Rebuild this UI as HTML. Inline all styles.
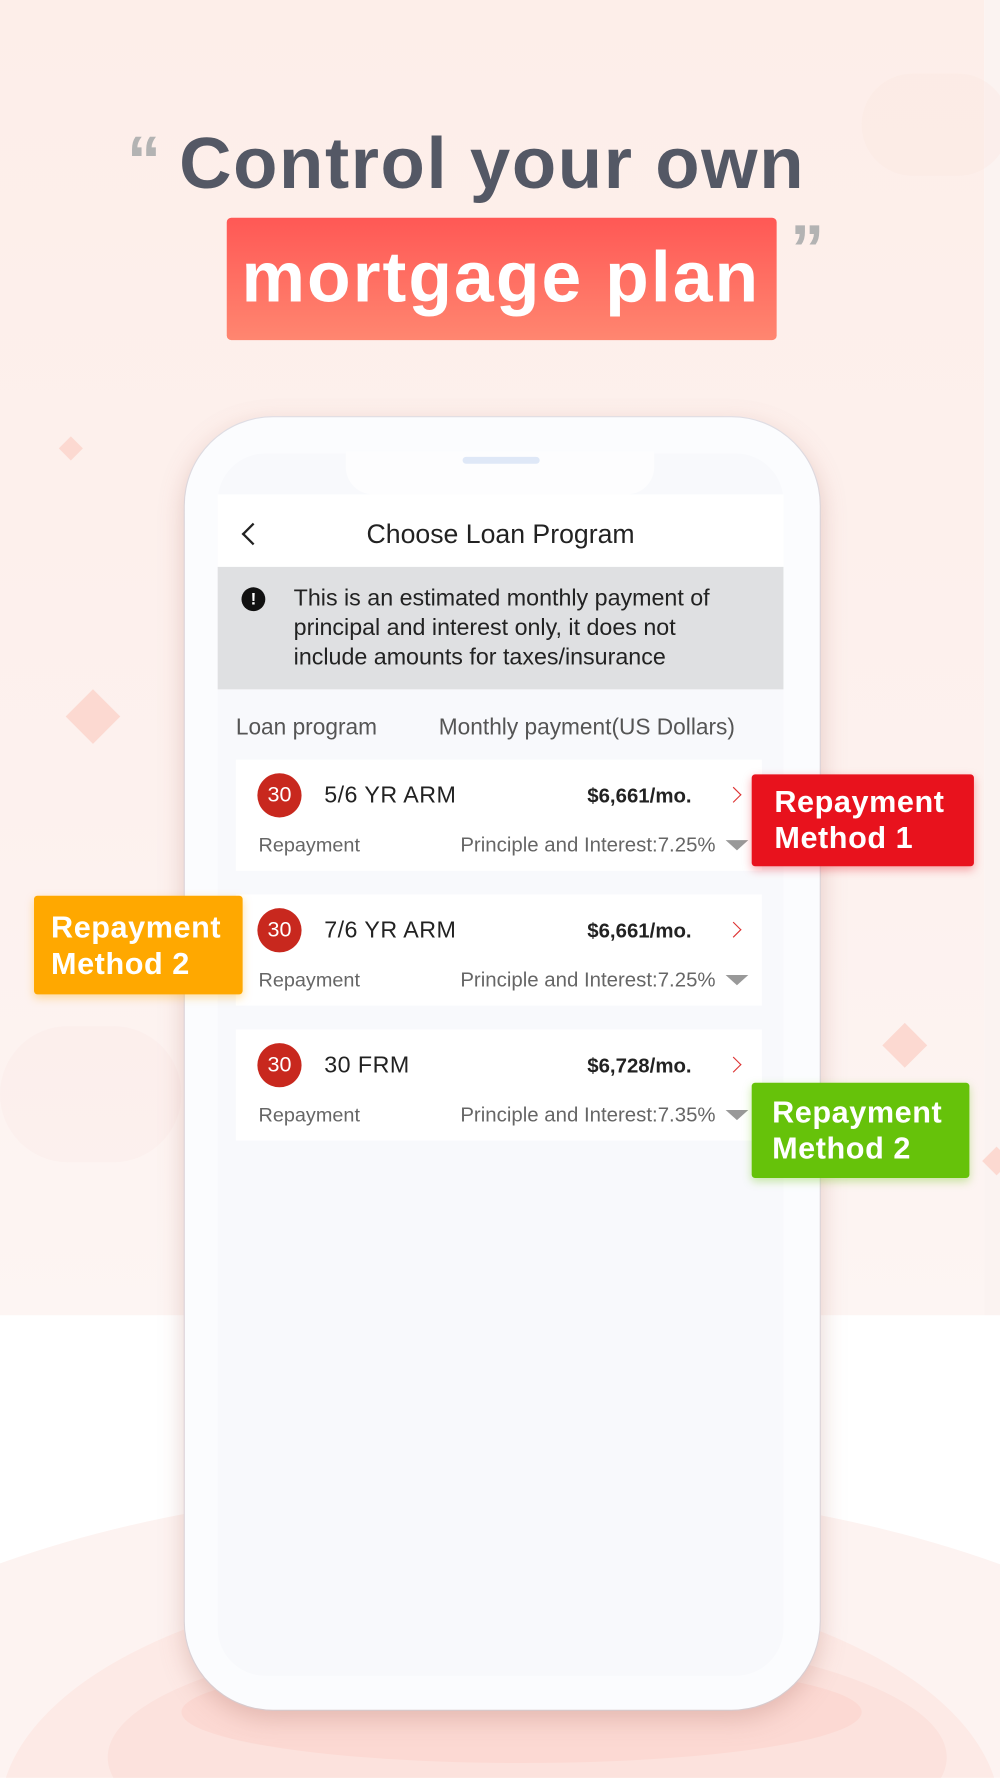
<!DOCTYPE html>
<html><head><meta charset="utf-8"><style>
*{margin:0;padding:0;box-sizing:border-box}
html,body{width:1000px;height:1778px;overflow:hidden;background:#fff}
#s{position:absolute;left:0;top:0;width:882px;height:1568px;transform:scale(1.13379);transform-origin:0 0;font-family:"Liberation Sans",sans-serif;overflow:hidden;background:#fff}
.a{position:absolute}
.dia{position:absolute;background:#fcd9d1;transform:rotate(45deg)}
.card{position:absolute;left:208px;width:464px;height:98px;background:#fff}
.c30{position:absolute;left:227px;width:39px;height:39px;border-radius:50%;background:#c8281e;color:#fff;font-size:19px;line-height:39px;text-align:center}
.tt{position:absolute;left:286px;font-size:20.5px;color:#222;letter-spacing:.4px}
.pr{position:absolute;right:272px;font-size:18px;font-weight:bold;color:#222}
.ch{position:absolute;left:642px;width:10px;height:10px;border-top:1.5px solid #d33;border-right:1.5px solid #d33;transform:rotate(45deg)}
.rp{position:absolute;left:228px;font-size:17.5px;color:#666}
.pi{position:absolute;left:406px;font-size:18px;color:#666}
.tri{position:absolute;left:640px;width:0;height:0;border-left:10px solid transparent;border-right:10px solid transparent;border-top:9px solid #999}
.lb{position:absolute;color:#fff;font-weight:bold;font-size:27px;line-height:32px;padding:8px 0 0 20px;border-radius:3px;letter-spacing:.5px}
</style></head><body><div id="s">
<div class="a" style="left:0;top:0;width:868px;height:1160px;background:linear-gradient(#fdeee9,#fdf1ee 60%,#fdf5f3)"></div>
<div class="a" style="left:868px;top:0;width:14px;height:1160px;background:#fbf3f1"></div>
<div class="a" style="left:760px;top:65px;width:130px;height:90px;border-radius:60px;background:#fce6df;opacity:.3"></div>
<div class="a" style="left:0;top:905px;width:160px;height:120px;border-radius:70px;background:#fce9e4;opacity:.3"></div>
<div class="a" style="left:-250px;top:1310px;width:1380px;height:600px;border-radius:50%;background:#fdf3f1"></div>
<div class="a" style="left:0;top:1390px;width:882px;height:420px;border-radius:50%;background:#fdeae6"></div>
<div class="a" style="left:95px;top:1440px;width:740px;height:220px;border-radius:50%;background:#fce2dd"></div>
<div class="a" style="left:160px;top:1465px;width:600px;height:90px;border-radius:50%;background:#fcd9d3"></div>
<div class="dia" style="left:55px;top:388px;width:15px;height:15px"></div>
<div class="dia" style="left:65px;top:615px;width:34px;height:34px"></div>
<div class="dia" style="left:784px;top:908px;width:28px;height:28px"></div>
<div class="dia" style="left:870px;top:1015px;width:18px;height:18px"></div>
<div class="a" style="left:112px;top:112px;font-size:60px;font-weight:bold;color:#b3b3b3;line-height:1">“</div>
<div class="a" style="left:158px;top:112px;font-size:64px;font-weight:bold;color:#545865;line-height:1;letter-spacing:1.4px">Control your own</div>
<div class="a" style="left:200px;top:192px;width:485px;height:108px;border-radius:4px;background:linear-gradient(#ff5855,#ff8670)"></div>
<div class="a" style="left:213px;top:214px;font-size:63px;font-weight:bold;color:#fff;line-height:1;letter-spacing:1.8px">mortgage plan</div>
<div class="a" style="left:697px;top:190px;font-size:60px;font-weight:bold;color:#b3b3b3;line-height:1">”</div>
<div class="a" style="left:163px;top:368px;width:560px;height:1140px;border-radius:78px;background:#fbfcfe;box-shadow:0 8px 22px rgba(180,120,110,.35),0 0 0 1px #e3e6ee"></div>
<div class="a" style="left:192px;top:400px;width:499px;height:1078px;border-radius:42px;background:#f8f9fc"></div>
<div class="a" style="left:305px;top:398px;width:272px;height:38px;border-radius:0 0 24px 24px;background:#fdfdfe"></div>
<div class="a" style="left:408px;top:403px;width:68px;height:6px;border-radius:3px;background:#dfe8f7"></div>
<div class="a" style="left:192px;top:436px;width:499px;height:64px;background:#fff"></div>
<div class="a" style="left:216px;top:464px;width:14px;height:14px;border-left:2px solid #222;border-bottom:2px solid #222;transform:rotate(45deg)"></div>
<div class="a" style="left:192px;top:458px;width:499px;text-align:center;font-size:23.5px;color:#222">Choose Loan Program</div>
<div class="a" style="left:192px;top:500px;width:499px;height:108px;background:#dfe0e2"></div>
<div class="a" style="left:213px;top:518px;width:21px;height:21px;border-radius:50%;background:#111;color:#fff;font-weight:bold;font-size:15px;line-height:21px;text-align:center">!</div>
<div class="a" style="left:259px;top:515px;font-size:20.5px;line-height:26px;color:#222">This is an estimated monthly payment of<br>principal and interest only, it does not<br>include amounts for taxes/insurance</div>
<div class="a" style="left:208px;top:631px;font-size:20px;color:#555">Loan program</div>
<div class="a" style="left:387px;top:631px;font-size:20px;color:#555">Monthly payment(US Dollars)</div>

<div class="card" style="top:670px"></div>
<div class="c30" style="top:682px">30</div><div class="tt" style="top:690px">5/6 YR ARM</div><div class="pr" style="top:692px">$6,661/mo.</div><div class="ch" style="top:696px"></div>
<div class="rp" style="top:735px">Repayment</div><div class="pi" style="top:735px">Principle and Interest:7.25%</div><div class="tri" style="top:741px"></div>

<div class="card" style="top:789px"></div>
<div class="c30" style="top:801px">30</div><div class="tt" style="top:809px">7/6 YR ARM</div><div class="pr" style="top:811px">$6,661/mo.</div><div class="ch" style="top:815px"></div>
<div class="rp" style="top:854px">Repayment</div><div class="pi" style="top:854px">Principle and Interest:7.25%</div><div class="tri" style="top:860px"></div>

<div class="card" style="top:908px"></div>
<div class="c30" style="top:920px">30</div><div class="tt" style="top:928px">30 FRM</div><div class="pr" style="top:930px">$6,728/mo.</div><div class="ch" style="top:934px"></div>
<div class="rp" style="top:973px">Repayment</div><div class="pi" style="top:973px">Principle and Interest:7.35%</div><div class="tri" style="top:979px"></div>

<div class="lb" style="left:663px;top:683px;width:196px;height:81px;background:#e8121d;box-shadow:0 3px 8px rgba(232,18,29,.35)">Repayment<br>Method 1</div>
<div class="lb" style="left:30px;top:790px;width:184px;height:87px;background:#ffa800;padding-left:15px;padding-top:12px;box-shadow:0 3px 8px rgba(255,168,0,.35)">Repayment<br>Method 2</div>
<div class="lb" style="left:663px;top:955px;width:192px;height:84px;background:#66c20a;padding-left:18px;padding-top:10px;box-shadow:0 3px 8px rgba(102,194,10,.35)">Repayment<br>Method 2</div>
</div></body></html>
